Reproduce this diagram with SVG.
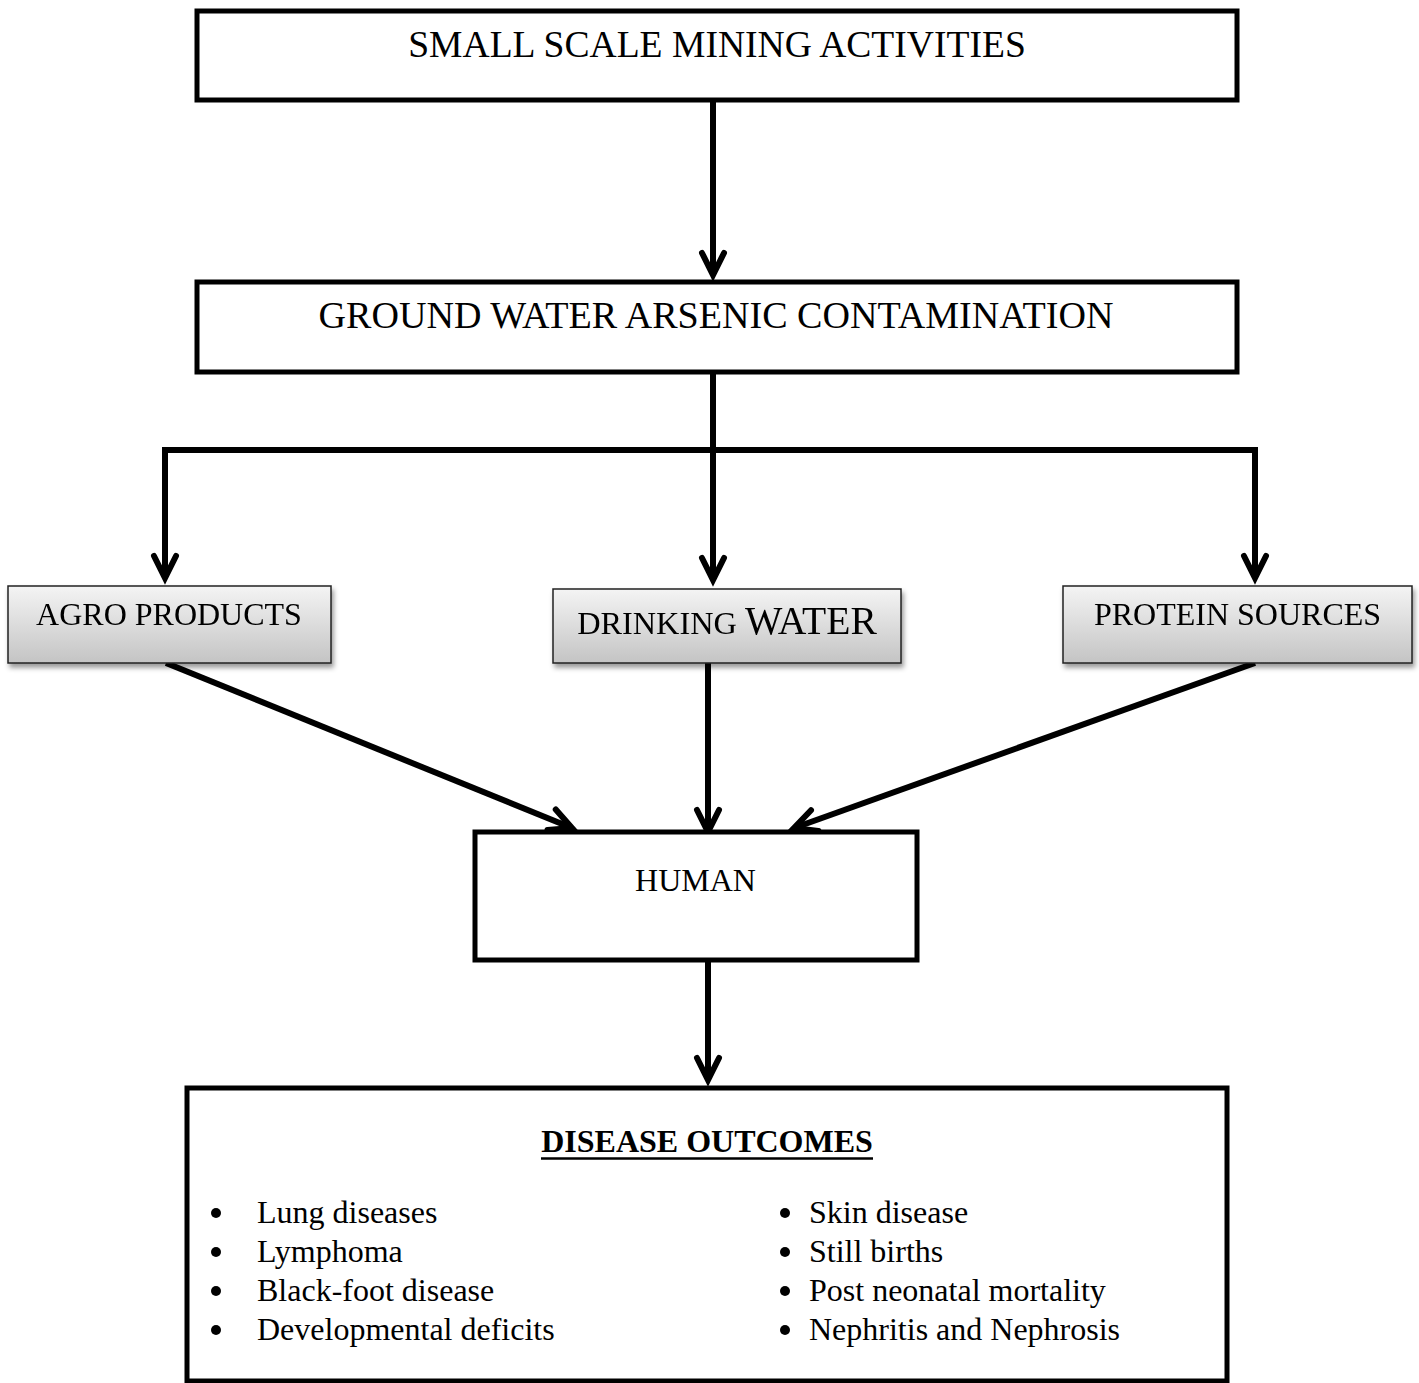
<svg xmlns="http://www.w3.org/2000/svg" width="1419" height="1383" viewBox="0 0 1419 1383">
<style>
.box{fill:#fff;stroke:#000;stroke-width:5}
.gbox{fill:url(#g);stroke:#222;stroke-width:1.5}
.t{font-family:"Liberation Serif","Times New Roman",serif;fill:#000}
.c{stroke:#000;stroke-width:6;fill:none}
</style>
<defs>
<linearGradient id="g" x1="0" y1="0" x2="0" y2="1">
<stop offset="0" stop-color="#f4f4f4"/>
<stop offset="1" stop-color="#c4c4c4"/>
</linearGradient>
<filter id="sh" x="-5%" y="-10%" width="115%" height="130%">
<feDropShadow dx="2" dy="4" stdDeviation="2.5" flood-color="#000" flood-opacity="0.4"/>
</filter>
<marker id="ah" markerUnits="userSpaceOnUse" orient="auto" refX="0" refY="0" markerWidth="40" markerHeight="40" viewBox="-30 -20 40 40" overflow="visible">
<path d="M -22 -11 L 0 0 L -22 11" fill="none" stroke="#000" stroke-width="6" stroke-linejoin="miter" stroke-linecap="round"/>
</marker>
</defs>

<g id="connectors">
<path class="c" d="M713 100 V275" marker-end="url(#ah)"/>
<path class="c" d="M713 372 V580" marker-end="url(#ah)"/>
<path class="c" d="M713 450 H165 V578" marker-end="url(#ah)"/>
<path class="c" d="M713 450 H1255 V578" marker-end="url(#ah)"/>
<path class="c" d="M166 663 L572 828" marker-end="url(#ah)"/>
<path class="c" d="M708 663 V832" marker-end="url(#ah)"/>
<path class="c" d="M1255 663 L794 828" marker-end="url(#ah)"/>
<path class="c" d="M708 960 V1080" marker-end="url(#ah)"/>
</g>

<g id="mining">
<rect class="box" x="197" y="11" width="1040" height="89"/>
<text class="t" x="717" y="57" font-size="37.6" text-anchor="middle">SMALL SCALE MINING ACTIVITIES</text>
</g>

<g id="groundwater">
<rect class="box" x="197" y="282" width="1040" height="90"/>
<text class="t" x="716" y="328" font-size="38.1" text-anchor="middle">GROUND WATER ARSENIC CONTAMINATION</text>
</g>

<g id="agro" filter="url(#sh)">
<rect class="gbox" x="8" y="586" width="323" height="77"/>
<text class="t" x="169" y="625" font-size="32" text-anchor="middle">AGRO PRODUCTS</text>
</g>

<g id="drinking" filter="url(#sh)">
<rect class="gbox" x="553" y="589" width="348" height="74"/>
<text class="t" x="727" y="634" text-anchor="middle"><tspan font-size="32.3">DRINKING </tspan><tspan font-size="39.6">WATER</tspan></text>
</g>

<g id="protein" filter="url(#sh)">
<rect class="gbox" x="1063" y="586" width="349" height="77"/>
<text class="t" x="1237.5" y="625" font-size="32" text-anchor="middle">PROTEIN SOURCES</text>
</g>

<g id="human">
<rect class="box" x="475" y="832" width="442" height="128"/>
<text class="t" x="695.5" y="891" font-size="32" text-anchor="middle">HUMAN</text>
</g>

<g id="outcomes">
<rect class="box" x="187" y="1088" width="1040" height="293"/>
<text class="t" x="707" y="1152" font-size="32" font-weight="bold" text-anchor="middle">DISEASE OUTCOMES</text>
<line x1="541" y1="1158.5" x2="873" y2="1158.5" stroke="#000" stroke-width="2.5"/>
<g class="t" font-size="32">
<circle cx="216" cy="1213" r="5"/>
<circle cx="216" cy="1252" r="5"/>
<circle cx="216" cy="1291" r="5"/>
<circle cx="216" cy="1330" r="5"/>
<text class="t" x="257" y="1223">Lung diseases</text>
<text class="t" x="257" y="1262">Lymphoma</text>
<text class="t" x="257" y="1301">Black-foot disease</text>
<text class="t" x="257" y="1340">Developmental deficits</text>
<circle cx="785" cy="1213" r="5"/>
<circle cx="785" cy="1252" r="5"/>
<circle cx="785" cy="1291" r="5"/>
<circle cx="785" cy="1330" r="5"/>
<text class="t" x="809" y="1223">Skin disease</text>
<text class="t" x="809" y="1262">Still births</text>
<text class="t" x="809" y="1301">Post neonatal mortality</text>
<text class="t" x="809" y="1340">Nephritis and Nephrosis</text>
</g>
</g>
</svg>
